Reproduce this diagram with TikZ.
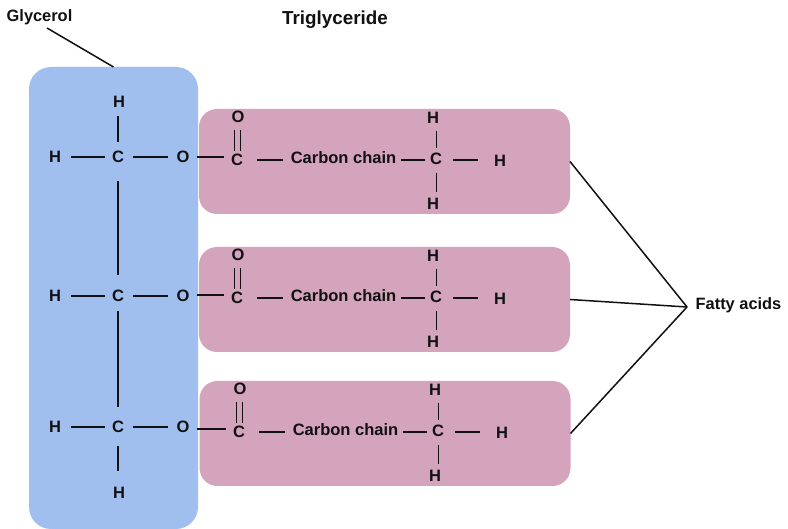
\documentclass[tikz,border=0pt]{standalone}
\usepackage{fontspec}
\setmainfont{Liberation Sans}
\definecolor{glyblue}{HTML}{A1BFEE}
\definecolor{fapink}{HTML}{D4A3BC}
\definecolor{ink}{HTML}{111111}
\tikzset{
  atom/.style={inner sep=0pt,outer sep=0pt,font=\fontsize{16.5}{16}\selectfont\bfseries,text=ink},
  label/.style={inner sep=0pt,outer sep=0pt,anchor=base,font=\fontsize{16.4}{16}\selectfont\bfseries,text=ink},
  bond/.style 2 args={draw=ink,line width=1.5pt,shorten <=#1,shorten >=#2},
  pointer/.style={draw=ink,line width=1.5pt},
  gbox/.style={fill=glyblue,rounded corners=22pt,inner sep=0pt,outer sep=0pt,minimum width=169pt,minimum height=462pt},
  fbox/.style={fill=fapink,rounded corners=18pt,inner sep=0pt,outer sep=0pt,minimum width=371pt,minimum height=105pt}
}
% #1 id, #2 dx, #3 dy, #4 y of glycerol row
\newcommand{\fattyrow}[4]{
  \node[atom] (Oa#1) at ({238+#2},{117+#3}) {O};
  \node[atom] (Ca#1) at ({237+#2},{160+#3}) {C};
  \node[atom] (chain#1) at ({343.5+#2},{158+#3}) {Carbon chain};
  \node[atom] (Cb#1) at ({436+#2},{159+#3}) {C};
  \node[atom] (Ht#1) at ({433+#2},{118+#3}) {H};
  \node[atom] (Hb#1) at ({433+#2},{204+#3}) {H};
  \node[atom] (Hr#1) at ({500+#2},{161+#3}) {H};
  \node[atom] (Hl#1) at (55,#4) {H};
  \node[atom] (Cg#1) at (118,#4) {C};
  \node[atom] (Og#1) at (183,#4) {O};
  \coordinate (oy#1) at ({210+#2},{157+#3});
  \coordinate (cy#1) at ({270+#2},{160+#3});
  \coordinate (tx#1) at ({436.5+#2},{140+#3});
  \coordinate (dl#1) at ({234.5+#2},{140+#3});
  \coordinate (dr#1) at ({240.5+#2},{140+#3});
  \draw[bond={10pt}{7pt}] (Hl#1) -- (Cg#1);
  \draw[bond={9pt}{9pt}] (Cg#1) -- (Og#1);
  \draw[bond={8pt}{7pt}] (Og#1.east |- oy#1) -- (Ca#1.west |- oy#1);
  \draw[bond={14pt}{8pt}] (Ca#1.east |- cy#1) -- (chain#1.west |- cy#1);
  \draw[bond={5pt}{5pt}] (chain#1.east |- cy#1) -- (Cb#1.west |- cy#1);
  \draw[bond={11pt}{16pt}] (Cb#1.east |- cy#1) -- (Hr#1.west |- cy#1);
  \draw[bond={7pt}{5pt}] (Ht#1.south -| tx#1) -- (Cb#1.north -| tx#1);
  \draw[bond={8pt}{6pt}] (Cb#1.south -| tx#1) -- (Hb#1.north -| tx#1);
  \draw[bond={7pt}{3pt}] (Oa#1.south -| dl#1) -- (Ca#1.north -| dl#1);
  \draw[bond={7pt}{3pt}] (Oa#1.south -| dr#1) -- (Ca#1.north -| dr#1);
}
\begin{document}
\begin{tikzpicture}[x=1pt,y=-1pt]
\useasboundingbox (0,0) rectangle (788,529);
\fill[white] (0,0) rectangle (788,529);
\node[gbox] (glycerolbox) at (113.5,298) {};
\node[fbox] (f1) at (384.5,161.5) {};
\node[fbox] (f2) at (384.5,299.5) {};
\node[fbox] (f3) at (385,433.5) {};
\node[label] (glycerol) at (39.5,22) {Glycerol};
\node[label,font=\fontsize{18.8}{18}\selectfont\bfseries] (title) at (335,25) {Triglyceride};
\node[label] (fatty) at (738.5,310) {Fatty acids};
\coordinate (gstart) at (47,28);
\coordinate (hub) at (687,307);
\coordinate (gx) at (118,300);
\draw[pointer] (gstart) -- (glycerolbox.north);
\fattyrow{1}{0}{0}{157}
\fattyrow{2}{0}{138}{296}
\fattyrow{3}{2}{272}{427}
\node[atom] (Htop) at (119,102) {H};
\node[atom] (Hbot) at (119,493) {H};
\draw[bond={8pt}{9pt}] (Htop.south -| gx) -- (Cg1.north -| gx);
\draw[bond={24pt}{21pt}] (Cg1.center) -- (Cg2.center);
\draw[bond={9pt}{20pt}] (Cg2.south) -- (Cg3.center);
\draw[bond={13pt}{16pt}] (Cg3.south -| gx) -- (Hbot.north -| gx);
\draw[pointer] (f1.east) -- (hub);
\draw[pointer] (f2.east) -- (hub);
\draw[pointer] (f3.east) -- (hub);
\end{tikzpicture}
\end{document}
